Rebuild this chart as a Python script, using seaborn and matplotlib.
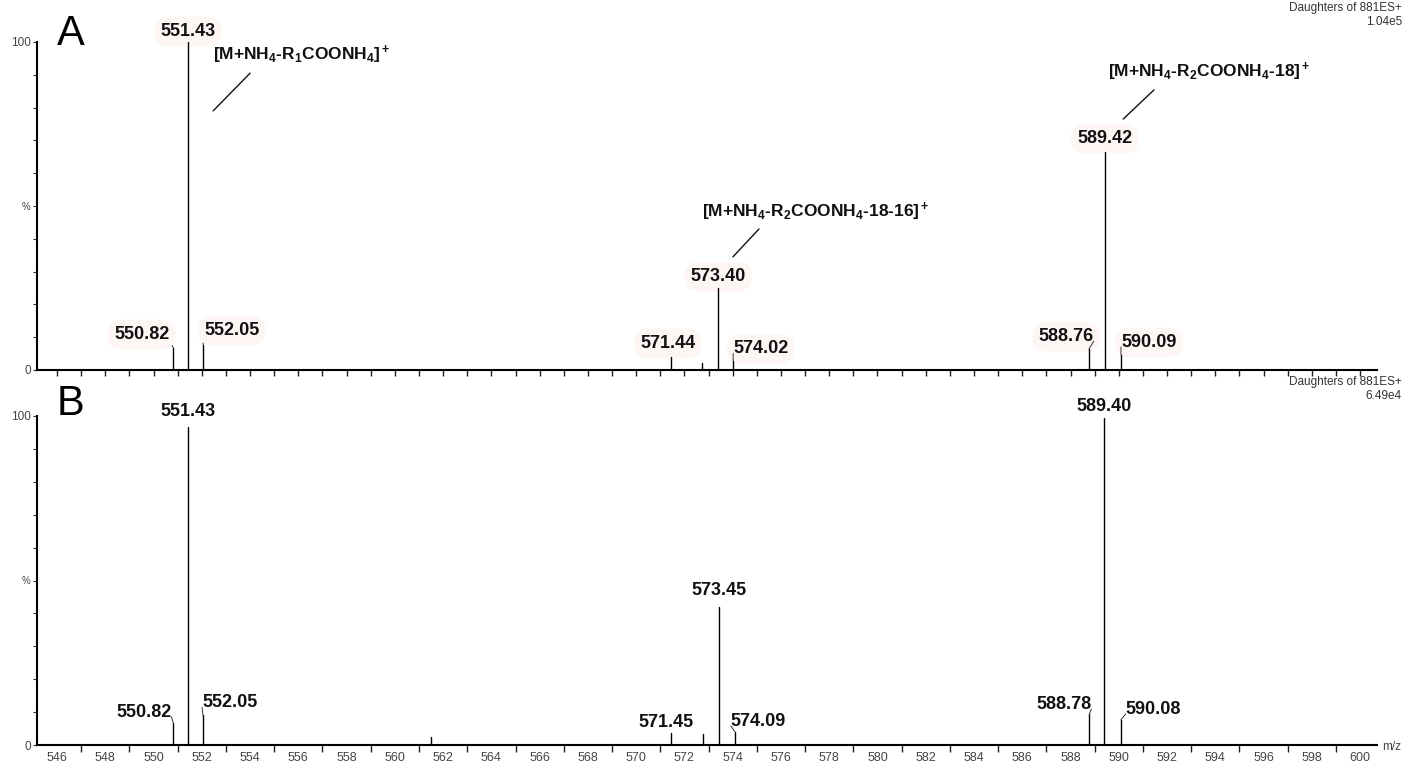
import numpy as np
import pandas as pd
import matplotlib
matplotlib.use("Agg")
import matplotlib.pyplot as plt
import seaborn as sns

# ---- spectrum A (Daughters of 881ES+, base peak 1.04e5) ----
mz_a = [550.82, 551.43, 552.05, 571.44, 572.73, 573.40, 574.02, 588.76, 589.42, 590.09]
int_a = [6.7, 100.0, 7.6, 4.0, 2.0, 25.0, 2.6, 6.4, 66.5, 4.6]
lab_a = ["550.82", "551.43", "552.05", "571.44", None, "573.40", "574.02", "588.76", "589.42", "590.09"]

# ---- spectrum B (Daughters of 881ES+, base peak 6.49e4) ----
mz_b = [550.82, 551.43, 552.05, 561.50, 571.45, 572.77, 573.45, 574.09, 588.78, 589.40, 590.08]
int_b = [6.7, 96.7, 9.0, 2.4, 3.6, 3.3, 42.0, 4.0, 9.4, 99.4, 7.6]
lab_b = ["550.82", "551.43", "552.05", None, "571.45", None, "573.45", "574.09", "588.78", "589.40", "590.08"]

header_a = ["Daughters of 881ES+", "1.04e5"]
header_b = ["Daughters of 881ES+", "6.49e4"]

# fragment assignments for spectrum A
ion_text = [r"[M+NH$_4$-R$_1$COONH$_4$]$^+$",
            r"[M+NH$_4$-R$_2$COONH$_4$-18-16]$^+$",
            r"[M+NH$_4$-R$_2$COONH$_4$-18]$^+$"]

x_major = np.arange(546, 601, 2)
x_minor = np.arange(547, 600, 2)

sns.set_theme(style="ticks")
plt.rcParams["font.family"] = ["Liberation Sans", "DejaVu Sans"]
plt.rcParams["mathtext.fontset"] = "custom"
plt.rcParams["mathtext.rm"] = "Liberation Sans:bold"
plt.rcParams["mathtext.it"] = "Liberation Sans:bold"
plt.rcParams["mathtext.bf"] = "Liberation Sans:bold"

W, H = 1405, 767
fig = plt.figure(figsize=(W / 100, H / 100), dpi=100)
ax_a = fig.add_axes([37 / W, (H - 370) / H, 1340 / W, 328 / H])
ax_b = fig.add_axes([37 / W, (H - 745) / H, 1340 / W, 329 / H])

# label placement per peak: (dx px, dy px to text centre, alignment)
place_a = {"550.82": (-4, 15, "right"), "551.43": (0, 12, "center"),
           "552.05": (1, 16, "left"), "571.44": (-3, 15, "center"),
           "573.40": (0, 13, "center"), "574.02": (0, 14, "left"),
           "588.76": (5, 14, "right"), "589.42": (0, 15, "center"),
           "590.09": (0, 14, "left")}
place_b = {"550.82": (-2, 12, "right"), "551.43": (0, 17, "center"),
           "552.05": (-1, 14, "left"), "571.45": (-5, 12, "center"),
           "573.45": (0, 18, "center"), "574.09": (-4, 12, "left"),
           "588.78": (2, 11, "right"), "589.40": (0, 13, "center"),
           "590.08": (5, 12, "left")}


def stems(ax, mz, inten):
    rows = []
    for i, (m, v) in enumerate(zip(mz, inten)):
        rows.append({"mz": m, "intensity": 0.0, "peak": i})
        rows.append({"mz": m, "intensity": v, "peak": i})
    df = pd.DataFrame(rows)
    sns.lineplot(data=df, x="mz", y="intensity", units="peak", estimator=None,
                 sort=False, color="black", lw=1.0, legend=False, ax=ax, zorder=3)


def peak_labels(ax, mz, inten, labels, place, halo):
    for m, v, t in zip(mz, inten, labels):
        if t is None:
            continue
        dx, dy, ha = place[t]
        kw = {}
        if halo:
            kw["bbox"] = dict(boxstyle="round,pad=0.35,rounding_size=0.8",
                              fc="#fdf6f5", ec="none")
        if ha == "center":
            ax.annotate(t, xy=(m, v), xytext=(dx, dy - 6), textcoords="offset pixels",
                        ha="center", va="baseline", fontsize=13, fontweight="bold",
                        color="#111111", annotation_clip=False, zorder=2, **kw)
        else:
            rel = (0.9, 0.0) if ha == "right" else (0.0, 0.0)
            ann = ax.annotate(t, xy=(m, v), xytext=(dx, dy - 6), textcoords="offset pixels",
                              ha=ha, va="baseline", fontsize=13, fontweight="bold",
                              color="#111111", annotation_clip=False, zorder=2, **kw)
            # short leader from the peak top to the label corner
            ax.annotate("", xy=(m, v), xytext=(dx, dy - 6), textcoords="offset pixels",
                        annotation_clip=False, zorder=4,
                        arrowprops=dict(arrowstyle="-", color="#333333", lw=0.7,
                                        shrinkA=0, shrinkB=0, patchA=ann.get_bbox_patch(),
                                        relpos=rel))


def style_axes(ax, bottom_labels):
    ax.set_xlim(545.17, 600.70)
    ax.set_ylim(0, 100)
    ax.set_xlabel("")
    ax.set_ylabel("")
    for s in ("top", "right"):
        ax.spines[s].set_visible(False)
    for s in ("left", "bottom"):
        ax.spines[s].set_linewidth(1.5)
        ax.spines[s].set_color("black")
    ax.set_yticks([0, 50, 100])
    ax.set_yticklabels(["0", "%", "100"])
    ax.set_yticks(np.arange(10, 100, 10), minor=True)
    ax.tick_params(axis="y", which="both", direction="out", length=3, width=0.8,
                   left=True, labelsize=8.5, labelcolor="#444444", pad=1.5, color="#333333")
    if bottom_labels:
        ax.set_xticks(x_major)
        ax.set_xticklabels([str(v) for v in x_major])
        ax.set_xticks(x_minor, minor=True)
        ax.tick_params(axis="x", which="major", length=0, pad=5, labelsize=9,
                       labelcolor="#444444")
        ax.tick_params(axis="x", which="minor", direction="out", length=5, width=1,
                       bottom=True, color="#222222")
    else:
        ax.set_xticks(np.arange(546, 601, 1))
        ax.set_xticklabels([])
        ax.tick_params(axis="x", which="major", direction="out", length=4, width=1,
                       bottom=True, color="#222222")
    for lbl in ax.get_yticklabels():
        if lbl.get_text() == "%":
            lbl.set_fontsize(7)


stems(ax_a, mz_a, int_a)
stems(ax_b, mz_b, int_b)
style_axes(ax_a, False)
style_axes(ax_b, True)
peak_labels(ax_a, mz_a, int_a, lab_a, place_a, True)
peak_labels(ax_b, mz_b, int_b, lab_b, place_b, False)

# fragment annotations with leader lines (spectrum A)
ion_pos = [(552.47, 96.0), (572.73, 48.2), (589.56, 90.9)]
leaders = [((552.47, 79.0), (554.0, 90.5)),
           ((574.01, 34.5), (575.09, 43.0)),
           ((590.18, 76.5), (591.46, 85.4))]
for txt, (tx, ty), (p0, p1) in zip(ion_text, ion_pos, leaders):
    ax_a.text(tx, ty, txt, ha="left", va="center", fontsize=12.5, fontweight="bold",
              color="#111111", clip_on=False)
    ax_a.plot([p0[0], p1[0]], [p0[1], p1[1]], color="#111111", lw=1.0, clip_on=False)

# panel letters
fig.text(57 / W, 1 - 45 / H, "A", fontsize=30, ha="left", va="baseline", color="black")
fig.text(57 / W, 1 - 415 / H, "B", fontsize=30, ha="left", va="baseline", color="black")

# instrument headers
for hdr, y0 in ((header_a, 15), (header_b, 389)):
    fig.text(1402 / W, 1 - y0 / H, hdr[0] + "\n" + hdr[1], ha="right", va="center",
             fontsize=8.5, color="#333333", linespacing=1.15)

fig.text(1382 / W, 1 - 747 / H, "m/z", ha="left", va="center", fontsize=8.5,
         color="#444444")

fig.savefig("out.png", dpi=100, facecolor="white")
